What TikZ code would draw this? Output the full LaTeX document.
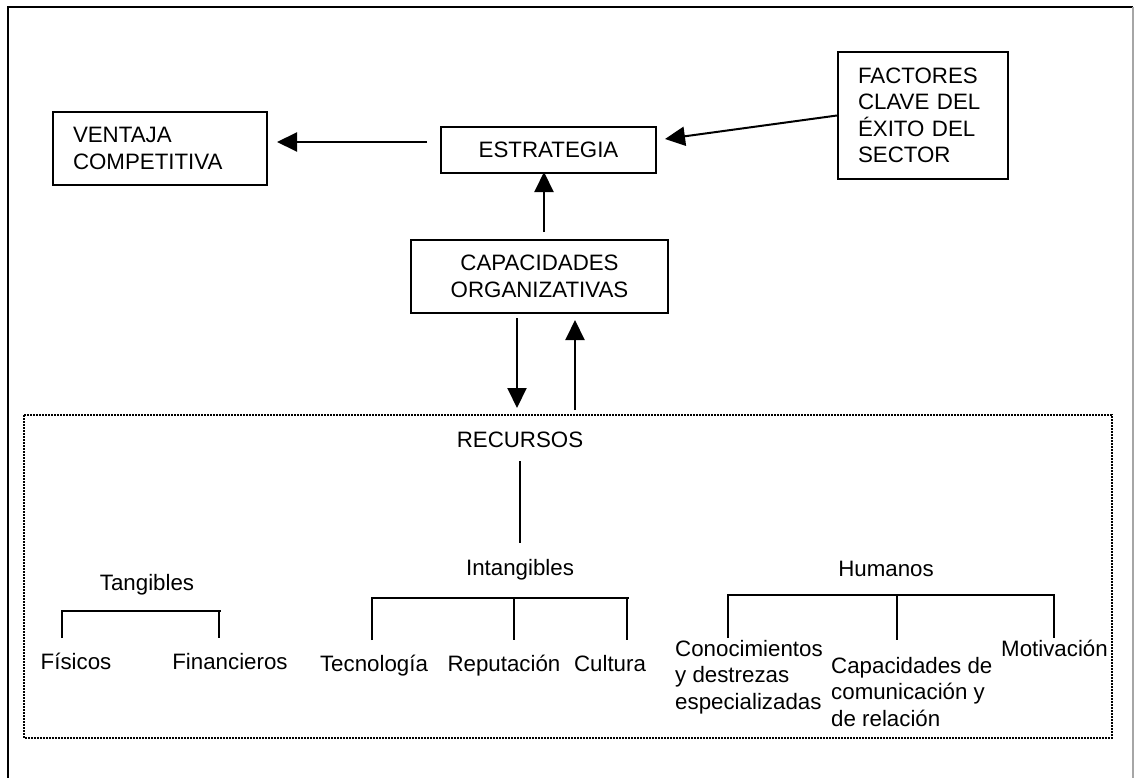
\documentclass[tikz,border=0pt]{standalone}
\usepackage{fontspec}
\setmainfont{Liberation Sans}
\usetikzlibrary{arrows.meta}
\begin{document}
\begin{tikzpicture}[x=1pt,y=-1pt,
  every node/.style={font=\fontsize{22.3}{26.5}\selectfont},
  boxnode/.style={draw,line width=2pt,inner sep=0pt},
  lbl/.style={inner sep=0pt,text height=16pt,text depth=0pt},
  mlbl/.style={inner sep=0pt,align=left},
  conn/.style={line width=2pt},
  arr/.style={line width=2pt,-{Triangle[length=20pt,width=19pt]}},
  tree/.style={line width=2pt},
  dotbox/.style={line width=1.8pt,dash pattern=on 1.6pt off 1.4pt}]
\useasboundingbox (0,0) rectangle (1134,778);
% outer frame
\draw[line width=2.2pt] (8,778) -- (8,7) -- (1133,7);
\draw[line width=1.2pt,black!35] (1133,7) -- (1133,778);
% boxes
\node[boxnode,minimum width=214pt,minimum height=73pt,text width=174pt,inner xsep=20pt,align=left] (vent) at (160,148.5) {VENTAJA\\COMPETITIVA};
\node[boxnode,minimum width=215pt,minimum height=46pt] (est) at (548.5,150) {ESTRATEGIA};
\node[boxnode,minimum width=257pt,minimum height=73pt,align=center] (cap) at (539.5,276.5) {CAPACIDADES\\ORGANIZATIVAS};
\node[boxnode,minimum width=170pt,minimum height=127pt,text width=130pt,inner xsep=20pt,align=left] (fac) at (923,115.5) {FACTORES\\CLAVE DEL\\ÉXITO DEL\\SECTOR};
% free ends of arrows
\coordinate (estL) at (427,142);
\coordinate (ventR) at (277,142);
\coordinate (estR) at (665,139);
\coordinate (capT) at (544,232);
\coordinate (estB) at (544,172);
\coordinate (capB1) at (517,318);
\coordinate (recT1) at (517,408);
\coordinate (recT2) at (575,410);
\coordinate (capB2) at (575,320);
\draw[arr] (estL) -- (ventR);
\draw[arr] (fac.west) -- (estR);
\draw[arr] (capT) -- (estB);
\draw[arr] (capB1) -- (recT1);
\draw[arr] (recT2) -- (capB2);
% resources box
\draw[dotbox] (24,415) rectangle (1112,738);
\node[lbl] (rec) at (520,439) {RECURSOS};
\node[lbl] (int) at (520,567) {Intangibles};
\node[lbl] (tan) at (147,582) {Tangibles};
\node[lbl] (hum) at (886,568) {Humanos};
\draw[conn,shorten <=14pt,shorten >=16pt] (rec.south) -- (int.north);
% tangibles
\draw[tree] (62,638) -- (62,611) -- (221,611);
\draw[tree] (219,611) -- (219,638);
\node[lbl] (fis) at (76,661) {Físicos};
\node[lbl] (fin) at (230,661) {Financieros};
% intangibles
\draw[tree] (372,640) -- (372,598) -- (629,598);
\draw[tree] (514,598) -- (514,640);
\draw[tree] (627,598) -- (627,640);
\node[lbl] (tec) at (374,663) {Tecnología};
\node[lbl] (rep) at (504,663) {Reputación};
\node[lbl] (cul) at (610,663) {Cultura};
% humanos
\draw[tree] (728,638) -- (728,595) -- (1054,595) -- (1054,638);
\draw[tree] (897,595) -- (897,640);
\node[mlbl,anchor=base west] (con) at (675,709) {Conocimientos\\y destrezas\\especializadas};
\node[mlbl,anchor=base west] (com) at (831,726) {Capacidades de\\comunicación y\\de relación};
\node[mlbl,anchor=base west] (mot) at (1001,656) {Motivación};
\end{tikzpicture}
\end{document}
